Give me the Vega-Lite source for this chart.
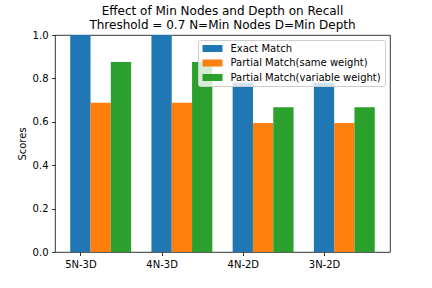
{
  "$schema": "https://vega.github.io/schema/vega-lite/v6.json",
  "autosize": {"type": "none"},
  "padding": {"left": 55, "top": 35, "right": 42, "bottom": 36},
  "width": 335,
  "height": 217,
  "background": "white",
  "title": {
    "text": ["Effect of Min Nodes and Depth on Recall", "Threshold = 0.7 N=Min Nodes D=Min Depth"],
    "anchor": "middle",
    "font": "DejaVu Sans",
    "fontSize": 12,
    "fontWeight": "normal",
    "color": "black",
    "lineHeight": 14,
    "offset": -2
  },
  "data": {
    "values": [
      {"config": "5N-3D", "series": "Exact Match", "score": 1.0},
      {"config": "5N-3D", "series": "Partial Match(same weight)", "score": 0.688},
      {"config": "5N-3D", "series": "Partial Match(variable weight)", "score": 0.876},
      {"config": "4N-3D", "series": "Exact Match", "score": 1.0},
      {"config": "4N-3D", "series": "Partial Match(same weight)", "score": 0.688},
      {"config": "4N-3D", "series": "Partial Match(variable weight)", "score": 0.876},
      {"config": "4N-2D", "series": "Exact Match", "score": 0.78},
      {"config": "4N-2D", "series": "Partial Match(same weight)", "score": 0.594},
      {"config": "4N-2D", "series": "Partial Match(variable weight)", "score": 0.667},
      {"config": "3N-2D", "series": "Exact Match", "score": 0.78},
      {"config": "3N-2D", "series": "Partial Match(same weight)", "score": 0.594},
      {"config": "3N-2D", "series": "Partial Match(variable weight)", "score": 0.667}
    ]
  },
  "mark": {"type": "bar"},
  "encoding": {
    "x": {
      "field": "config",
      "type": "nominal",
      "sort": ["5N-3D", "4N-3D", "4N-2D", "3N-2D"],
      "scale": {"paddingInner": 0.25, "paddingOuter": 0.1875},
      "axis": {
        "title": null,
        "labelAngle": 0,
        "bandPosition": 0.5,
        "tickOffset": -20.3,
        "labelOffset": 0,
        "tickSize": 3.5,
        "labelPadding": 3.5,
        "domain": false
      }
    },
    "xOffset": {
      "field": "series",
      "type": "nominal",
      "sort": ["Exact Match", "Partial Match(same weight)", "Partial Match(variable weight)"],
      "scale": {"paddingInner": 0, "paddingOuter": 0}
    },
    "y": {
      "field": "score",
      "type": "quantitative",
      "scale": {"domain": [0, 1], "nice": false},
      "axis": {
        "title": "Scores",
        "values": [0, 0.2, 0.4, 0.6, 0.8, 1.0],
        "format": ".1f",
        "grid": false,
        "tickSize": 3.5,
        "labelPadding": 3.5,
        "titlePadding": 5,
        "domain": false
      }
    },
    "color": {
      "field": "series",
      "type": "nominal",
      "sort": ["Exact Match", "Partial Match(same weight)", "Partial Match(variable weight)"],
      "scale": {
        "domain": ["Exact Match", "Partial Match(same weight)", "Partial Match(variable weight)"],
        "range": ["#1f77b4", "#ff7f0e", "#2ca02c"]
      },
      "legend": {
        "title": null,
        "orient": "top-right",
        "offset": 5
      }
    }
  },
  "config": {
    "font": "DejaVu Sans",
    "view": {"stroke": "black", "strokeWidth": 0.8},
    "axis": {
      "labelFont": "DejaVu Sans",
      "labelFontSize": 10,
      "labelColor": "black",
      "titleFont": "DejaVu Sans",
      "titleFontSize": 10,
      "titleFontWeight": "normal",
      "titleColor": "black",
      "tickColor": "black",
      "tickWidth": 0.8
    },
    "legend": {
      "labelFont": "DejaVu Sans",
      "labelFontSize": 10,
      "labelColor": "black",
      "labelLimit": 0,
      "symbolType": "M-2,-0.7H2V0.7H-2Z",
      "symbolSize": 100,
      "symbolStrokeWidth": 0,
      "symbolOpacity": 1,
      "symbolOffset": 6,
      "rowPadding": 4.5,
      "labelOffset": 13,
      "padding": 3.5,
      "fillColor": "rgba(255,255,255,0.8)",
      "strokeColor": "#cccccc",
      "cornerRadius": 2
    }
  }
}
